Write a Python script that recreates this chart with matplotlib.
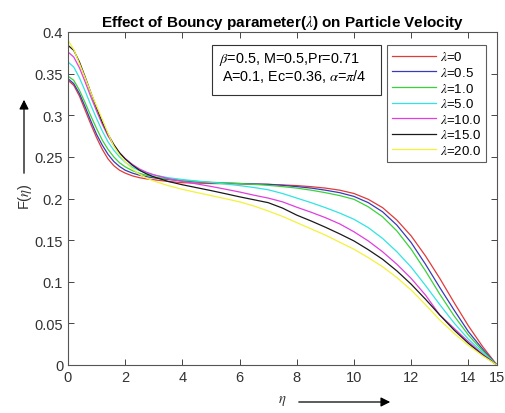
import matplotlib
matplotlib.use("Agg")
import matplotlib.pyplot as plt
from matplotlib.patches import Rectangle, FancyArrowPatch

plt.rcParams['font.family'] = ['Liberation Sans', 'DejaVu Sans']
plt.rcParams['mathtext.fontset'] = 'stix'

eta = [0, 0.2, 0.4, 0.6, 0.8, 1.0, 1.2, 1.4, 1.6, 1.8, 2.0, 2.25, 2.5, 2.75, 3.0,
       3.5, 4.0, 4.5, 5.0, 5.5, 6.0, 6.5, 7.0, 7.5, 8.0, 8.5, 9.0, 9.5, 10.0,
       10.5, 11.0, 11.5, 12.0, 12.5, 13.0, 13.5, 14.0, 14.5, 15.0]

F_l0 = [0.342, 0.336, 0.323, 0.306, 0.289, 0.273, 0.259, 0.2475, 0.2395, 0.234, 0.2305,
        0.2272, 0.2250, 0.2235, 0.2225, 0.2205, 0.2190, 0.2185, 0.2180, 0.2178, 0.2175,
        0.2172, 0.2170, 0.2163, 0.2155, 0.2142, 0.2125, 0.2100, 0.2060, 0.1990, 0.1890,
        0.1740, 0.1550, 0.1310, 0.1040, 0.0750, 0.0470, 0.0220, 0.0]
F_l05 = [0.344, 0.338, 0.326, 0.310, 0.293, 0.277, 0.264, 0.253, 0.2445, 0.2385, 0.2340,
         0.2305, 0.2280, 0.2262, 0.2248, 0.2228, 0.2212, 0.2200, 0.2190, 0.2185, 0.2180,
         0.2175, 0.2170, 0.2158, 0.2143, 0.2125, 0.2100, 0.2070, 0.2025, 0.1950, 0.1840,
         0.1680, 0.1470, 0.1210, 0.0930, 0.0660, 0.0400, 0.0190, 0.0]
F_l1 = [0.347, 0.342, 0.330, 0.315, 0.299, 0.284, 0.270, 0.259, 0.250, 0.243, 0.2380,
        0.2335, 0.2302, 0.2278, 0.2260, 0.2235, 0.2218, 0.2205, 0.2195, 0.2188, 0.2180,
        0.2170, 0.2158, 0.2143, 0.2125, 0.2100, 0.2070, 0.2035, 0.1990, 0.1900, 0.1780,
        0.1610, 0.1390, 0.1130, 0.0850, 0.0590, 0.0360, 0.0170, 0.0]
F_l5 = [0.364, 0.358, 0.345, 0.329, 0.312, 0.296, 0.281, 0.268, 0.258, 0.250, 0.2435,
        0.2375, 0.2335, 0.2305, 0.2282, 0.2250, 0.2228, 0.2210, 0.2193, 0.2175, 0.2155,
        0.2132, 0.2105, 0.2060, 0.2005, 0.1950, 0.1890, 0.1825, 0.1750, 0.1650, 0.1520,
        0.1360, 0.1175, 0.0955, 0.0725, 0.0505, 0.0310, 0.0150, 0.0]
F_l10 = [0.376, 0.370, 0.357, 0.340, 0.322, 0.305, 0.289, 0.275, 0.264, 0.255, 0.2480,
         0.2410, 0.2355, 0.2315, 0.2285, 0.2240, 0.2205, 0.2175, 0.2145, 0.2112, 0.2078,
         0.2040, 0.2005, 0.1960, 0.1895, 0.1835, 0.1770, 0.1695, 0.1600, 0.1490, 0.1360,
         0.1210, 0.1040, 0.0840, 0.0600, 0.0440, 0.0280, 0.0130, 0.0]
F_l15 = [0.384, 0.378, 0.364, 0.346, 0.327, 0.309, 0.292, 0.277, 0.265, 0.255, 0.2475,
         0.2400, 0.2340, 0.2295, 0.2260, 0.2205, 0.2165, 0.2130, 0.2095, 0.2058, 0.2020,
         0.1985, 0.1950, 0.1885, 0.1800, 0.1730, 0.1655, 0.1575, 0.1490, 0.1385, 0.1270,
         0.1130, 0.0970, 0.0790, 0.0600, 0.0420, 0.0260, 0.0120, 0.0]
F_l20 = [0.390, 0.379, 0.362, 0.345, 0.327, 0.311, 0.295, 0.278, 0.263, 0.2525, 0.2440,
         0.2355, 0.2290, 0.2245, 0.2210, 0.2155, 0.2110, 0.2072, 0.2035, 0.1998, 0.1960,
         0.1910, 0.1850, 0.1785, 0.1710, 0.1635, 0.1560, 0.1475, 0.1390, 0.1290, 0.1180,
         0.1050, 0.0900, 0.0725, 0.0540, 0.0380, 0.0235, 0.0110, 0.0]

series = [F_l0, F_l05, F_l1, F_l5, F_l10, F_l15, F_l20]
labels = [r'$\lambda$=0', r'$\lambda$=0.5', r'$\lambda$=1.0', r'$\lambda$=5.0',
          r'$\lambda$=10.0', r'$\lambda$=15.0', r'$\lambda$=20.0']
colors = ['#e03a3a', '#3a3ab8', '#3ad23a', '#30e4e4', '#e03ee0', '#1a1a1a', '#f2f23a']

xticks = [0, 2, 4, 6, 8, 10, 12, 14, 15]
yticks = [0, 0.05, 0.1, 0.15, 0.2, 0.25, 0.3, 0.35, 0.4]
ytick_labels = ['0', '0.05', '0.1', '0.15', '0.2', '0.25', '0.3', '0.35', '0.4']

W, H = 505, 414
fig = plt.figure(figsize=(W / 100, H / 100), dpi=100)
ax = fig.add_axes([68 / W, 1 - 366 / H, (497 - 68) / W, (366 - 33) / H])

for y, lab, c in zip(series, labels, colors):
    ax.plot(eta, y, color=c, lw=0.9, label=lab)

ax.set_xlim(0, 15)
ax.set_ylim(0, 0.4)
ax.set_xticks(xticks)
ax.set_xticklabels([str(t) for t in xticks])
ax.set_yticks(yticks)
ax.set_yticklabels(ytick_labels)
ax.tick_params(direction='in', length=4, width=0.7, top=True, right=True,
               labelsize=10.5, colors='#444444', labelcolor='#333333')
for s in ax.spines.values():
    s.set_color('#555555')
    s.set_linewidth(0.8)

ax.set_title(r'Effect of Bouncy parameter($\lambda$) on Particle Velocity',
             fontsize=11, fontweight='bold', pad=4)

# legend
leg = ax.legend(loc='upper left', bbox_to_anchor=(387 / W, 1 - 46 / H),
                bbox_transform=fig.transFigure, fontsize=9.5, frameon=True,
                fancybox=False, handlelength=3.3, handletextpad=0.3,
                labelspacing=0.2, borderpad=0.4, borderaxespad=0)
leg.get_frame().set_edgecolor('#333333')
leg.get_frame().set_linewidth(0.8)

# parameter text box
fig.patches.append(Rectangle((212 / W, 1 - 96 / H), 169 / W, 50 / H,
                             transform=fig.transFigure, fill=True, facecolor='white',
                             edgecolor='#333333', lw=0.8, zorder=5))
fig.text(219 / W, 1 - 59 / H, r'$\beta$=0.5, M=0.5,Pr=0.71', fontsize=10.4,
         va='center', ha='left', zorder=6)
fig.text(222 / W, 1 - 77 / H, r'A=0.1, Ec=0.36, $\alpha$=$\pi$/4', fontsize=10.4,
         va='center', ha='left', zorder=6)

# axis labels with arrows
fig.text(25 / W, 1 - 197 / H, r'F($\eta$)', rotation=90, fontsize=10.5,
         va='center', ha='center', color='#333333')
fig.patches.append(FancyArrowPatch((24 / W, 1 - 177 / H), (24 / W, 1 - 98 / H),
                                   transform=fig.transFigure, arrowstyle='-|>',
                                   mutation_scale=14, lw=0.9, color='black'))
fig.text(282 / W, 1 - 401 / H, r'$\eta$', fontsize=10.5, va='center', ha='center',
         color='#333333')
fig.patches.append(FancyArrowPatch((296 / W, 1 - 403 / H), (393 / W, 1 - 403 / H),
                                   transform=fig.transFigure, arrowstyle='-|>',
                                   mutation_scale=14, lw=0.9, color='black'))

fig.savefig('out.png', dpi=100)
